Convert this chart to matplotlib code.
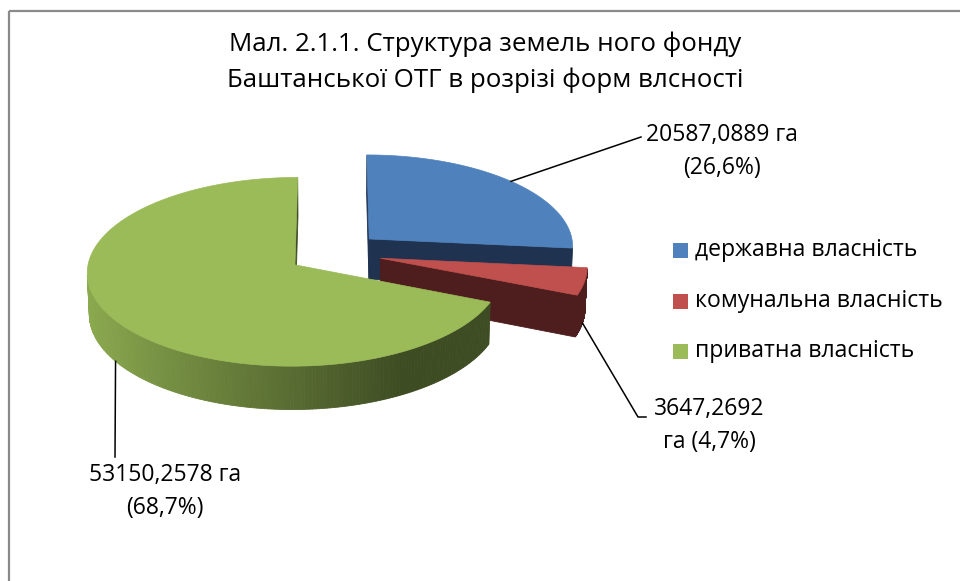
import numpy as np
import matplotlib.pyplot as plt
from matplotlib.colors import to_rgb
from matplotlib.patches import Polygon, Rectangle

plt.rcParams["font.family"] = ["Open Sans", "DejaVu Sans"]

# ---- data ----
title_lines = [
    "Мал. 2.1.1. Структура земель ного фонду",
    "Баштанської ОТГ в розрізі форм влсності",
]
categories = ["державна власність", "комунальна власність", "приватна власність"]
areas_ha = [20587.0889, 3647.2692, 53150.2578]

# ---- style / layout ----
top_colors = ["#4F81BD", "#C0504D", "#9BBB59"]
side_light = ["#1F3350", "#4E1D1D", "#8CAB4F"]
side_dark = ["#1F3350", "#4E1D1D", "#3E4C23"]

R = 205.0          # pie radius (px)
H = 46.0           # pie thickness (px)
PHI = np.radians(26.7)
DIST = 2508.0      # perspective distance
CX, CY = 334.6, 253.0
EXPLODE = 0.23

label_centers = [(722, 152), (709, 426), (165, 491)]
label_pitch = 33
unit_on_second_line = [False, True, False]
leader_z = [0.0, -H, -H]
leader_ends = [[(641, 137)], [(638, 417), (646, 417)], [(115, 457)]]

legend_x, legend_rows = 673, [250, 301, 351]

cos_p, sin_p = np.cos(PHI), np.sin(PHI)
cam = np.array([0.0, -DIST * cos_p, DIST * sin_p])


def project(x, y, z):
    d = y * cos_p - z * sin_p
    s = DIST / (DIST + d)
    v = y * sin_p + z * cos_p
    return (CX + x * s, CY - v * s)


def depth(x, y, z):
    return y * cos_p - z * sin_p


fig = plt.figure(figsize=(9.6, 5.81), dpi=100)
ax = fig.add_axes([0, 0, 1, 1])
ax.set_xlim(0, 960)
ax.set_ylim(581, 0)
ax.axis("off")

ax.add_patch(Rectangle((9, 11), 1200, 1000, fill=False, ec="#8A8A8A", lw=1.6, zorder=0))

total = sum(areas_ha)
fracs = [a / total for a in areas_ha]

slices = []
start = 90.0
for i, f in enumerate(fracs):
    t1 = np.radians(start)
    t2 = np.radians(start - f * 360)
    start -= f * 360
    mid = (t1 + t2) / 2
    slices.append(dict(i=i, t1=t1, t2=t2, mid=mid,
                       ox=EXPLODE * R * np.cos(mid), oy=EXPLODE * R * np.sin(mid)))


def draw_slice(sl):
    i = sl["i"]
    ox, oy, mid = sl["ox"], sl["oy"], sl["mid"]
    light, dark = np.array(to_rgb(side_light[i])), np.array(to_rgb(side_dark[i]))
    th = np.linspace(sl["t2"], sl["t1"], 260)
    faces = []

    # outer wall
    for a, b in zip(th[:-1], th[1:]):
        m = (a + b) / 2
        px, py = ox + R * np.cos(m), oy + R * np.sin(m)
        n = np.array([np.cos(m), np.sin(m), 0.0])
        if n @ (cam - np.array([px, py, -H / 2])) <= 0:
            continue
        xa, ya = ox + R * np.cos(a), oy + R * np.sin(a)
        xb, yb = ox + R * np.cos(b), oy + R * np.sin(b)
        pts = [project(xa, ya, 0), project(xb, yb, 0), project(xb, yb, -H), project(xa, ya, -H)]
        t = np.clip((np.cos(m) + 1) / 1.5, 0, 1)
        faces.append((depth(px, py, -H / 2), pts, (1 - t) * light + t * dark))

    # radial cut faces
    for e in (sl["t1"], sl["t2"]):
        u = np.array([np.cos(e), np.sin(e)])
        n = np.array([-u[1], u[0]])
        if n @ np.array([np.cos(mid), np.sin(mid)]) > 0:
            n = -n
        c = np.array([ox + R / 2 * u[0], oy + R / 2 * u[1], -H / 2])
        if np.array([n[0], n[1], 0.0]) @ (cam - c) <= 0:
            continue
        ex, ey = ox + R * u[0], oy + R * u[1]
        pts = [project(ox, oy, 0), project(ex, ey, 0), project(ex, ey, -H), project(ox, oy, -H)]
        faces.append((depth(*c), pts, dark))

    faces.sort(key=lambda f: -f[0])
    for _, pts, col in faces:
        ax.add_patch(Polygon(pts, closed=True, fc=col, ec=col, lw=0.6, zorder=2))

    top = [project(ox, oy, 0)] + [project(ox + R * np.cos(t), oy + R * np.sin(t), 0) for t in th]
    ax.add_patch(Polygon(top, closed=True, fc=top_colors[i], ec=top_colors[i], lw=0.5, zorder=2))


for sl in sorted(slices, key=lambda s: -depth(s["ox"], s["oy"], 0)):
    draw_slice(sl)

# data labels with leader lines
for sl in slices:
    i = sl["i"]
    ax_x = sl["ox"] + R * np.cos(sl["mid"])
    ax_y = sl["oy"] + R * np.sin(sl["mid"])
    path = [project(ax_x, ax_y, leader_z[i])] + leader_ends[i]
    ax.plot([p[0] for p in path], [p[1] for p in path], color="black", lw=1.1, zorder=3)

    num = f"{areas_ha[i]:.4f}".replace(".", ",")
    pct = f"({fracs[i] * 100:.1f}%)".replace(".", ",")
    if unit_on_second_line[i]:
        lines = [num, f"га {pct}"]
    else:
        lines = [f"{num} га", pct]
    cx, cy = label_centers[i]
    for k, line in enumerate(lines):
        ax.text(cx, cy + (k - 0.5) * label_pitch, line, ha="center", va="center",
                fontsize=16.5, color="black", zorder=4)

# legend
for i, name in enumerate(categories):
    y = legend_rows[i]
    ax.add_patch(Rectangle((legend_x, y - 7.5), 15, 15, fc=top_colors[i], ec="none", zorder=3))
    ax.text(legend_x + 22, y, name, ha="left", va="center", fontsize=16.6, color="black")

# title
for k, line in enumerate(title_lines):
    ax.text(485, 44 + k * 36, line, ha="center", va="center", fontsize=18.6, color="black")

fig.savefig("out.png", dpi=100)
